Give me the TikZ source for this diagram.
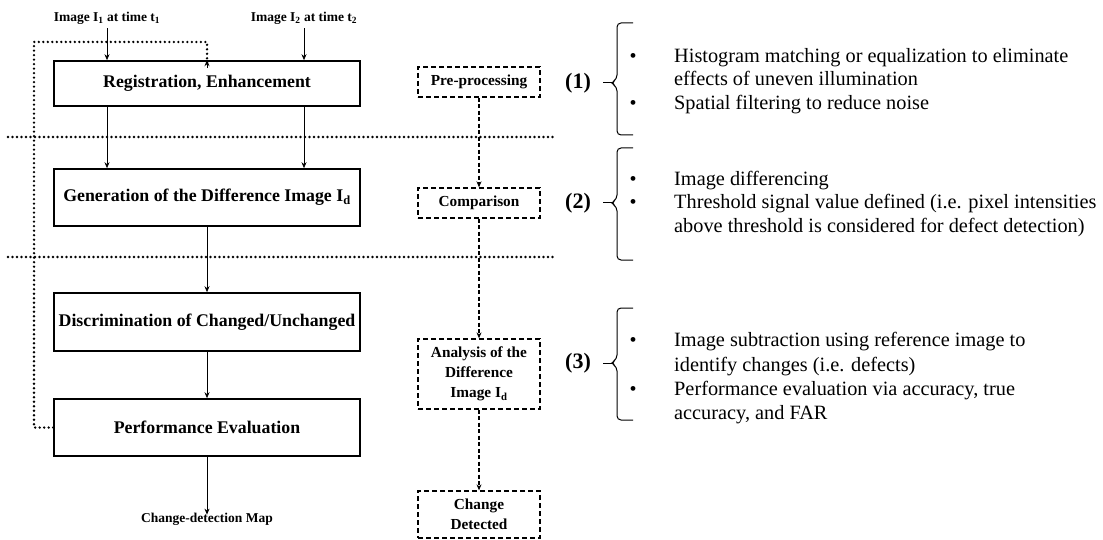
\documentclass[tikz,border=0pt]{standalone}
\usepackage{fontspec}
\setmainfont{Liberation Serif}
\usetikzlibrary{arrows.meta}
\tikzset{
  box/.style={draw, line width=1.6pt, minimum width=306pt, font=\fontsize{17.8}{20}\selectfont\bfseries, inner sep=0pt},
  dbox/.style={draw, line width=1.3pt, dash pattern=on 5pt off 3pt, minimum width=122pt, font=\fontsize{15.3}{20}\selectfont\bfseries, align=center, inner sep=0pt},
  arr/.style={line width=0.8pt, -{Stealth[length=6pt,width=5pt]}},
  darr/.style={line width=1.1pt, dash pattern=on 4pt off 2.5pt, -{Stealth[length=6pt,width=5pt]}},
  dotline/.style={line width=2.6pt, dash pattern=on 0pt off 4.5pt, line cap=round},
  small/.style={font=\fontsize{13.5}{15}\selectfont\bfseries, inner sep=0pt},
  num/.style={font=\fontsize{22}{24}\selectfont\bfseries, inner sep=0pt},
  txt/.style={font=\fontsize{20.3}{23.5}\selectfont, anchor=base west, inner sep=0pt},
  bul/.style={font=\fontsize{20}{20}\selectfont, anchor=base, inner sep=0pt},
  brace/.style={line width=1pt, rounded corners=4pt}
}
\begin{document}
\begin{tikzpicture}[x=1pt,y=-1pt]
\useasboundingbox (0,0) rectangle (1103,540);
% left flow
\node[small] (i1) at (107,18) {Image I\textsubscript{1} at time t\textsubscript{1}};
\node[small] (i2) at (304,18) {Image I\textsubscript{2} at time t\textsubscript{2}};
\node[box, minimum height=45pt] (b1) at (207,83.5) {Registration, Enhancement};
\node[box, minimum height=57pt] (b2) at (207,197.5) {Generation of the Difference Image I\textsubscript{d}};
\node[box, minimum height=58pt] (b3) at (207,322) {Discrimination of Changed/Unchanged};
\node[box, minimum height=57pt] (b4) at (207,427.5) {Performance Evaluation};
\node[small] (map) at (207,519) {Change-detection Map};
\coordinate (fb) at (34,42);
\draw[arr] (i1.south) ++(0,4) -- (i1.south |- b1.north);
\draw[arr] (i2.south) ++(0,4) -- (i2.south |- b1.north);
\draw[arr] (b1.south -| i1) -- (b2.north -| i1);
\draw[arr] (b1.south -| i2) -- (b2.north -| i2);
\draw[arr] (b2.south) -- (b3.north);
\draw[arr] (b3.south) -- (b4.north);
\draw[arr] (b4.south) -- ([yshift=-2pt]map.north);
\draw[dotline] (b4.west) -| (fb) -| ([yshift=-7pt]b1.north);
\draw[arr] ([yshift=-8pt]b1.north) -- (b1.north);
% separators
\coordinate (s1a) at (8,137); \coordinate (s1b) at (553,137);
\coordinate (s2a) at (8,257); \coordinate (s2b) at (553,257);
\draw[dotline] (s1a) -- (s1b);
\draw[dotline] (s2a) -- (s2b);
% middle flow
\node[dbox, minimum height=30pt] (p1) at (479,82) {Pre-processing};
\node[dbox, minimum height=30pt] (p2) at (479,203) {Comparison};
\node[dbox, minimum height=70pt] (p3) at (479,374) {Analysis of the\\Difference\\Image I\textsubscript{d}};
\node[dbox, minimum height=47pt] (p4) at (479,514.5) {Change\\Detected};
\draw[darr] (p1) -- (p2);
\draw[darr] (p2) -- (p3);
\draw[darr] (p3) -- (p4);
% numbers
\node[num] (n1) at (578,83) {(1)};
\node[num] (n2) at (578,203) {(2)};
\node[num] (n3) at (578,363) {(3)};
% braces
\draw[brace] (633,23) -- (617,23) -- (617,79) -- (611,83) -- (617,87) -- (617,135) -- (633,135);
\draw[line width=1pt] (603,83) -- (612,83);
\draw[brace] (633,148) -- (617,148) -- (617,199) -- (611,203) -- (617,207) -- (617,260) -- (633,260);
\draw[line width=1pt] (603,203) -- (612,203);
\draw[brace] (633,308) -- (617,308) -- (617,359) -- (611,363) -- (617,367) -- (617,420) -- (633,420);
\draw[line width=1pt] (603,363) -- (612,363);
% bullets and text
\node[bul] (u11) at (633,63) {•};
\node[bul] (u12) at (633,110) {•};
\node[txt] (t11a) at (674,63) {Histogram matching or equalization to eliminate};
\node[txt] (t11b) at (674,86) {effects of uneven illumination};
\node[txt] (t12) at (674,110) {Spatial filtering to reduce noise};
\node[bul] (u21) at (633,186) {•};
\node[bul] (u22) at (633,209) {•};
\node[txt] (t21) at (674,186) {Image differencing};
\node[txt] (t22a) at (674,209) {Threshold signal value defined (i.e. pixel intensities};
\node[txt] (t22b) at (674,233) {above threshold is considered for defect detection)};
\node[bul] (u31) at (633,346) {•};
\node[bul] (u32) at (633,395) {•};
\node[txt] (t31a) at (674,346) {Image subtraction using reference image to};
\node[txt] (t31b) at (674,371) {identify changes (i.e. defects)};
\node[txt] (t32a) at (674,395) {Performance evaluation via accuracy, true};
\node[txt] (t32b) at (674,419) {accuracy, and FAR};
\end{tikzpicture}
\end{document}
